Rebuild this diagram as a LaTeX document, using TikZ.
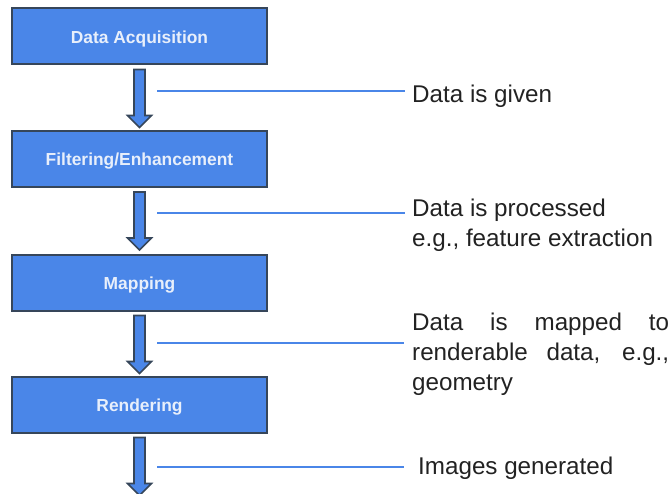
\documentclass[tikz,border=0pt]{standalone}
\usepackage{fontspec}
\setmainfont{Liberation Sans}
\usetikzlibrary{calc}

\definecolor{stageblue}{HTML}{4A86E8}
\definecolor{stageedge}{HTML}{36465A}
\definecolor{stagetext}{HTML}{E8EFFB}
\definecolor{notetext}{HTML}{222222}

\tikzset{
  stagebox/.style={draw=stageedge, line width=2pt, fill=stageblue,
    minimum width=255pt, minimum height=56pt, inner sep=0pt,
    text height=14pt, text depth=0pt,
    text=stagetext, font=\fontsize{17.4}{20}\selectfont\bfseries},
  flowarrow/.pic={
    \draw[draw=stageedge, line width=1.6pt, fill=stageblue, line join=miter]
      (-5.5,0) -- (5.5,0) -- (5.5,46) -- (12,46) -- (0,58)
      -- (-12,46) -- (-5.5,46) -- cycle;
  },
  leader/.style={draw=stageblue, line width=2pt},
  note/.style={anchor=base west, inner sep=0pt, text=notetext,
    font=\fontsize{24.2}{30}\selectfont},
}

\begin{document}
\begin{tikzpicture}[x=1pt, y=-1pt]
  \useasboundingbox (0,0) rectangle (671,494);

  % pipeline stages
  \node[stagebox] (acq)  at (139.5, 36.5)  {Data Acquisition};
  \node[stagebox] (filt) at (139.5, 159)   {Filtering/Enhancement};
  \node[stagebox] (map)  at (139.5, 282.5) {Mapping};
  \node[stagebox] (rend) at (139.5, 404.5) {Rendering};

  % block arrows between the stages
  \pic at ($(acq.south)+(0,4)$)  {flowarrow};
  \pic at ($(filt.south)+(0,4)$) {flowarrow};
  \pic at ($(map.south)+(0,4)$)  {flowarrow};
  \pic at ($(rend.south)+(0,4)$) {flowarrow};

  % explanations of each step
  \node[note] (n1) at (412, 102.5) {Data is given};
  \node[note] (n2) at (412, 216.7)
    {\parbox[t]{260pt}{\raggedright Data is processed\\ e.g., feature extraction}};
  \node[note] (n3) at (412, 330.7)
    {\parbox[t]{257pt}{\makebox[257pt][s]{Data is mapped to}\\
      \makebox[257pt][s]{renderable data, e.g.,}\\ geometry}};
  \node[note] (n4) at (418, 474.3) {Images generated};

  % leader lines from the arrows to their notes
  \coordinate (s1) at (157, 91);    \coordinate (e1) at (405, 91);
  \coordinate (s2) at (157, 213.5); \coordinate (e2) at (405, 213.5);
  \coordinate (s3) at (157, 342.5); \coordinate (e3) at (404, 342.5);
  \coordinate (s4) at (157, 466.5); \coordinate (e4) at (404, 466.5);
  \draw[leader] (s1) -- (e1);
  \draw[leader] (s2) -- (e2);
  \draw[leader] (s3) -- (e3);
  \draw[leader] (s4) -- (e4);
\end{tikzpicture}
\end{document}
